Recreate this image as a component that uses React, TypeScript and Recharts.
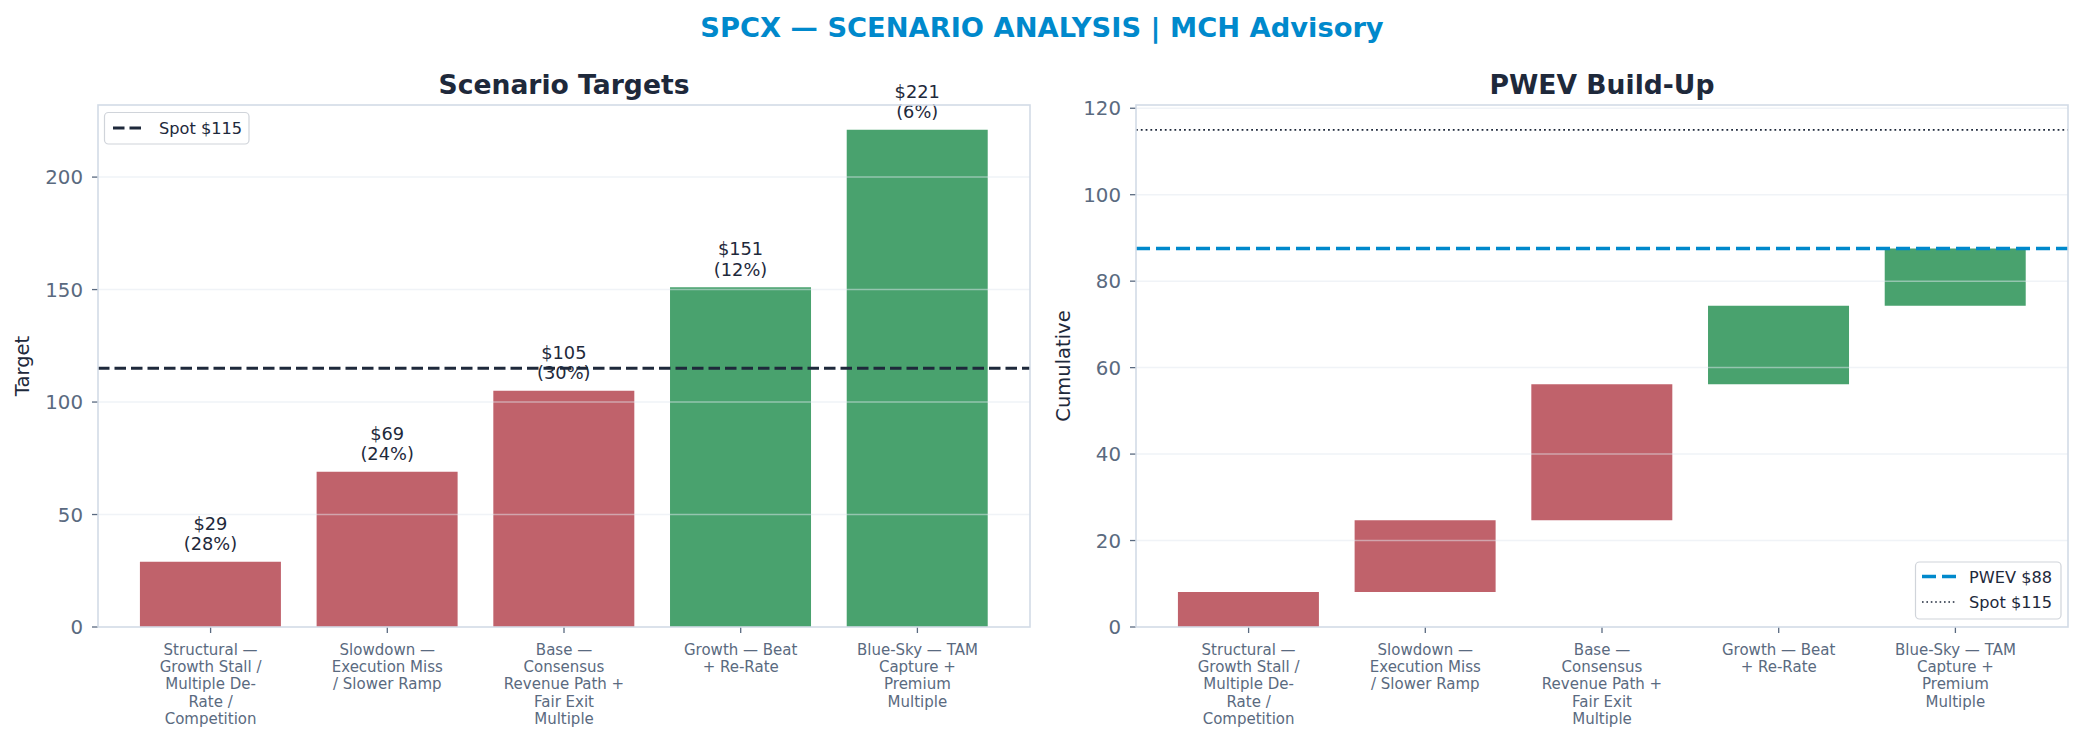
import React from 'react';
import { BarChart, Bar, XAxis, YAxis, Cell, ReferenceLine, LabelList } from 'recharts';

const FONT = '"DejaVu Sans", Verdana, sans-serif';

// ---- data ----
const categories = [
  'Structural — Growth Stall / Multiple De-Rate / Competition',
  'Slowdown — Execution Miss / Slower Ramp',
  'Base — Consensus Revenue Path + Fair Exit Multiple',
  'Growth — Beat + Re-Rate',
  'Blue-Sky — TAM Capture + Premium Multiple',
];
const tickLines = [
  ['Structural —', 'Growth Stall /', 'Multiple De-', 'Rate /', 'Competition'],
  ['Slowdown —', 'Execution Miss', '/ Slower Ramp'],
  ['Base —', 'Consensus', 'Revenue Path +', 'Fair Exit', 'Multiple'],
  ['Growth — Beat', '+ Re-Rate'],
  ['Blue-Sky — TAM', 'Capture +', 'Premium', 'Multiple'],
];
const targets = [29, 69, 105, 151, 221];
const probabilities = [0.28, 0.24, 0.3, 0.12, 0.06];
const spot = 115;
const targetTicks = [0, 50, 100, 150, 200];
const cumulativeTicks = [0, 20, 40, 60, 80, 100, 120];

// ---- styles ----
const RED = '#c0626b';
const GREEN = '#49a26e';
const BLUE = '#0089cc';
const DARK = '#1e293b';
const SLATE = '#5a6a80';
const SPINE = '#d3dbe6';
const GRID = '#e2e8f0';

const targetData = categories.map((name, i) => ({ name, target: targets[i], prob: probabilities[i] }));
let running = 0;
const waterData = categories.map((name, i) => {
  const contrib = targets[i] * probabilities[i];
  const row = { name, base: running, contrib };
  running += contrib;
  return row;
});
const pwev = running;
const colorFor = (t: number) => (t >= spot ? GREEN : RED);

const CatTick = (props: any) => {
  const { x, y, payload } = props;
  const lines = tickLines[payload.index] || [];
  return (
    <text x={x} y={y} textAnchor="middle" fill={SLATE} fontSize={15} fontFamily={FONT}>
      {lines.map((l, i) => (
        <tspan key={i} x={x} y={y + 19.5 + i * 17.4}>{l}</tspan>
      ))}
    </text>
  );
};

const BarLabel = (props: any) => {
  const { x, y, width, index } = props;
  const cx = Number(x) + Number(width) / 2;
  const top = Number(y);
  return (
    <text textAnchor="middle" fill={DARK} fontSize={17.8} fontFamily={FONT}>
      <tspan x={cx} y={top - 32}>${targets[index]}</tspan>
      <tspan x={cx} y={top - 11.5}>({Math.round(probabilities[index] * 100)}%)</tspan>
    </text>
  );
};

const yTick = { fill: SLATE, fontSize: 19.8, fontFamily: FONT };

export default function App() {
  const leftMax = 221 * 1.05;
  const rightMax = spot * 1.05;
  return (
    <div style={{ position: 'absolute', left: 0, top: 0, width: 2084, height: 742, background: '#fff', fontFamily: FONT }}>
      <div style={{ position: 'absolute', left: 0, top: 0 }}>
        <BarChart width={1042} height={742} data={targetData} margin={{ top: 105, right: 12, bottom: 15, left: 0 }} barCategoryGap="10%">
          <XAxis dataKey="name" interval={0} height={100} padding={{ left: 24.25, right: 24.25 }} tick={<CatTick />} tickSize={6} tickMargin={2} tickLine={{ stroke: SLATE, strokeWidth: 1.3 }} axisLine={false} />
          <YAxis width={98} domain={[0, leftMax]} ticks={targetTicks} type="number" tick={yTick} tickSize={6} tickMargin={9} tickLine={{ stroke: SLATE, strokeWidth: 1.3 }} axisLine={false} />
          <Bar dataKey="target" isAnimationActive={false}>
            {targetData.map((d, i) => (
              <Cell key={i} fill={colorFor(d.target)} />
            ))}
            <LabelList dataKey="target" content={BarLabel} />
          </Bar>
          {targetTicks.slice(1).map((t) => (
            <ReferenceLine key={t} y={t} stroke={GRID} strokeOpacity={0.5} strokeWidth={1.5} />
          ))}
          <ReferenceLine y={spot} stroke={DARK} strokeWidth={3} strokeDasharray="11.5 5" />
        </BarChart>
      </div>
      <div style={{ position: 'absolute', left: 1042, top: 0 }}>
        <BarChart width={1042} height={742} data={waterData} margin={{ top: 105, right: 16, bottom: 15, left: 0 }} barCategoryGap="10%">
          <XAxis dataKey="name" interval={0} height={100} padding={{ left: 24.25, right: 24.25 }} tick={<CatTick />} tickSize={6} tickMargin={2} tickLine={{ stroke: SLATE, strokeWidth: 1.3 }} axisLine={false} />
          <YAxis width={94} domain={[0, rightMax]} ticks={cumulativeTicks} type="number" tick={yTick} tickSize={6} tickMargin={9} tickLine={{ stroke: SLATE, strokeWidth: 1.3 }} axisLine={false} />
          <Bar dataKey="base" stackId="w" fill="transparent" isAnimationActive={false} />
          <Bar dataKey="contrib" stackId="w" isAnimationActive={false}>
            {waterData.map((d, i) => (
              <Cell key={i} fill={colorFor(targets[i])} />
            ))}
          </Bar>
          {cumulativeTicks.slice(1).map((t) => (
            <ReferenceLine key={t} y={t} stroke={GRID} strokeOpacity={0.5} strokeWidth={1.5} />
          ))}
          <ReferenceLine y={pwev} stroke={BLUE} strokeWidth={3.5} strokeDasharray="14 6" />
          <ReferenceLine y={spot} stroke={DARK} strokeWidth={1.8} strokeDasharray="1.8 3" />
        </BarChart>
      </div>
      <svg width={2084} height={742} style={{ position: 'absolute', left: 0, top: 0, pointerEvents: 'none' }} fontFamily={FONT}>
        <text x={1042} y={36.5} textAnchor="middle" fill={BLUE} fontSize={27.3} fontWeight="bold">SPCX — SCENARIO ANALYSIS | MCH Advisory</text>
        <text x={564} y={94} textAnchor="middle" fill={DARK} fontSize={26.6} fontWeight="bold">Scenario Targets</text>
        <text x={1602} y={94} textAnchor="middle" fill={DARK} fontSize={26.6} fontWeight="bold">PWEV Build-Up</text>
        <rect x={98} y={105} width={932} height={522} fill="none" stroke={SPINE} strokeWidth={1.6} />
        <rect x={1136} y={105} width={932} height={522} fill="none" stroke={SPINE} strokeWidth={1.6} />
        <text transform="translate(29,366) rotate(-90)" textAnchor="middle" fill={DARK} fontSize={19.5}>Target</text>
        <text transform="translate(1070,366) rotate(-90)" textAnchor="middle" fill={DARK} fontSize={19.5}>Cumulative</text>
        {/* left legend */}
        <rect x={104.5} y={112.5} width={144.5} height={31.5} rx={4} fill="#fff" fillOpacity={0.85} stroke="#d0d4da" strokeWidth={1.2} />
        <line x1={113} x2={142} y1={128} y2={128} stroke={DARK} strokeWidth={3} strokeDasharray="11.5 5" />
        <text x={159} y={134} fill={DARK} fontSize={16.2}>Spot $115</text>
        {/* right legend */}
        <rect x={1915.5} y={562} width={145.5} height={57} rx={4} fill="#fff" fillOpacity={0.85} stroke="#d0d4da" strokeWidth={1.2} />
        <line x1={1922} x2={1956} y1={576.5} y2={576.5} stroke={BLUE} strokeWidth={3.5} strokeDasharray="14 6" />
        <text x={1969} y={582.5} fill={DARK} fontSize={16.2}>PWEV ${Math.round(pwev)}</text>
        <line x1={1922} x2={1956} y1={602} y2={602} stroke={DARK} strokeWidth={1.6} strokeDasharray="1.6 2.8" />
        <text x={1969} y={608} fill={DARK} fontSize={16.2}>Spot ${spot}</text>
      </svg>
    </div>
  );
}
